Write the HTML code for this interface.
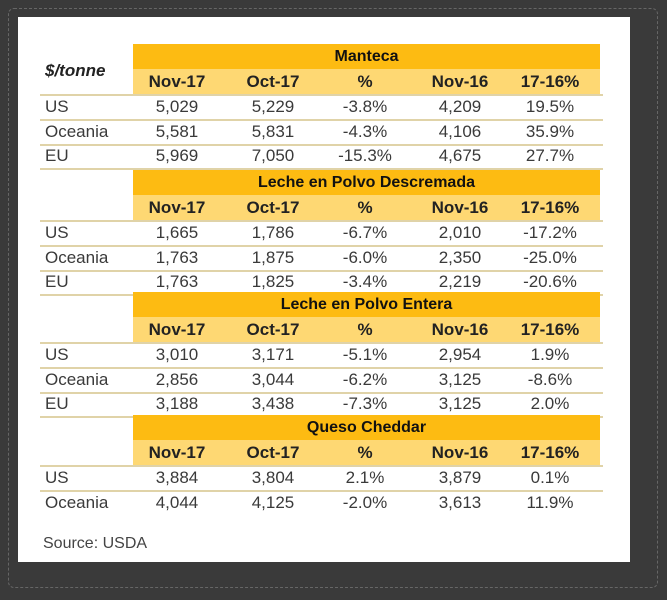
<!DOCTYPE html>
<html><head><meta charset="utf-8"><style>
body{margin:0;width:667px;height:600px;background:#3a3a3a;position:relative;overflow:hidden;font-family:"Liberation Sans",Arial,sans-serif}
#frame{position:absolute;left:8px;top:8px;width:648px;height:578px;border:1px dashed #666;border-radius:6px}
#panel{position:absolute;left:18px;top:17px;width:612px;height:545px;background:#fff}
.a{position:absolute}
.gold{background:#fdbb12;color:#111;font-weight:bold;font-size:16px;text-align:center;line-height:25px}
.sub{background:#fed873}
.c{position:absolute;text-align:center;width:90px;font-size:17px;color:#3a3a3a}
.h{font-weight:bold;color:#222}
.line{position:absolute;left:22px;width:563px;height:2px;background:#e0d3a8}
.lab{position:absolute;left:27px;font-size:17px;color:#3a3a3a}
</style></head><body>
<div id="frame"></div>
<div id="panel">
<div class="a h" style="left:27px;top:44px;font-size:17px;font-style:italic">$/tonne</div>
<div class="a" style="left:25px;top:518px;font-size:16px;color:#444">Source: USDA</div>
</div>
<script>
const sections=["Manteca","Leche en Polvo Descremada","Leche en Polvo Entera","Queso Cheddar"];
const headers=["Nov-17","Oct-17","%","Nov-16","17-16%"];
const rowLabels=[["US","Oceania","EU"],["US","Oceania","EU"],["US","Oceania","EU"],["US","Oceania"]];
const values=[
[["5,029","5,229","-3.8%","4,209","19.5%"],["5,581","5,831","-4.3%","4,106","35.9%"],["5,969","7,050","-15.3%","4,675","27.7%"]],
[["1,665","1,786","-6.7%","2,010","-17.2%"],["1,763","1,875","-6.0%","2,350","-25.0%"],["1,763","1,825","-3.4%","2,219","-20.6%"]],
[["3,010","3,171","-5.1%","2,954","1.9%"],["2,856","3,044","-6.2%","3,125","-8.6%"],["3,188","3,438","-7.3%","3,125","2.0%"]],
[["3,884","3,804","2.1%","3,879","0.1%"],["4,044","4,125","-2.0%","3,613","11.9%"]]
];
const p=document.getElementById('panel');
const cx=[159,255,347,442,532];
const tops=[27,153,275,398];
function mk(cls,style,txt){const d=document.createElement('div');d.className=cls;d.style.cssText=style;if(txt!==undefined)d.textContent=txt;p.appendChild(d);return d;}
sections.forEach((s,i)=>{
 const t=tops[i];
 const g=mk('a gold',`left:115px;top:${t}px;width:467px;height:25px`,s);
 
 
 const sb=mk('a sub',`left:115px;top:${t+25}px;width:467px;height:26px`);
 
 
 headers.forEach((h,j)=>{
  const e=mk('c h',`left:${cx[j]-45}px;top:${t+28}px`,h);
  
  
 });
 const ln=mk('line',`top:${t+50}px`);
 
 
 rowLabels[i].forEach((r,k)=>{
  const y=t+52+k*24.5;
  const l=mk('lab',`top:${y+1}px`,r);
  
  
  values[i][k].forEach((v,j)=>{
   const e=mk('c',`left:${cx[j]-45}px;top:${y+1}px`,v);
   
   
  });
  if(k<rowLabels[i].length-1||i<3){
   const d=mk('line',`top:${y+23}px`);
   
   
  }
 });
});
</script>
</body></html>
